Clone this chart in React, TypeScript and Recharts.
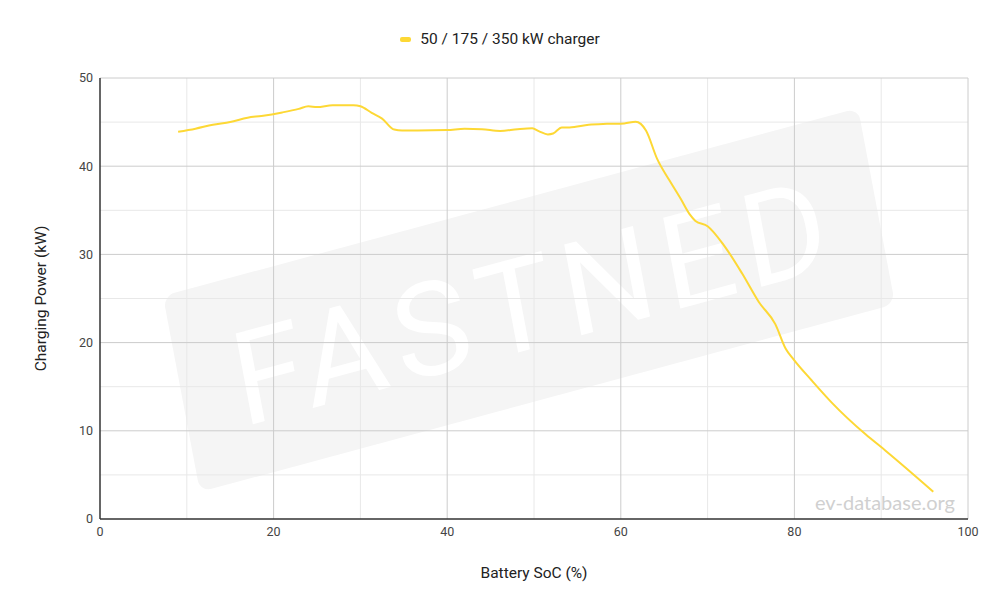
import { LineChart, Line, XAxis, YAxis, ReferenceLine, Legend } from 'recharts'

// Battery state of charge (%) and charging power (kW)
const socValues = [
  9, 11, 13, 15, 17, 18.6, 21, 22.9, 24, 25, 26.8, 29.2, 30, 31.3, 32.5, 33.9, 34.8, 36.6, 40, 42,
  44, 46.1, 48.1, 49.8, 50.6, 51.6, 52.2, 53.2, 54.1, 56.3, 58.4, 60.4, 61.7, 62.3, 62.9, 64.2,
  65.6, 66.9, 67.9, 68.6, 70, 71.9, 74, 75.9, 77.8, 79, 79.9, 82, 84.3, 88.2, 90.5, 96,
]
const powerValues = [
  43.9, 44.25, 44.7, 45.0, 45.5, 45.7, 46.1, 46.5, 46.8, 46.7, 46.9, 46.9, 46.8, 46.05, 45.4, 44.15,
  44.05, 44.05, 44.1, 44.25, 44.2, 44.0, 44.2, 44.3, 43.95, 43.6, 43.7, 44.4, 44.4, 44.7, 44.8,
  44.85, 45.05, 44.8, 44.05, 40.8, 38.4, 36.3, 34.6, 33.8, 33.2, 31.0, 27.8, 24.6, 22.1, 19.3,
  18.1, 15.7, 13.2, 9.6, 7.75, 3.1,
]

const xTicks = [0, 20, 40, 60, 80, 100]
const yTicks = [0, 10, 20, 30, 40, 50]
const xMajorGrid = [20, 40, 60, 80, 100]
const xMinorGrid = [10, 30, 50, 70, 90]
const yMajorGrid = [10, 20, 30, 40, 50]
const yMinorGrid = [5, 15, 25, 35, 45]

const seriesName = '50 / 175 / 350 kW charger'
const lineColor = '#fdd835'

const data = socValues.map((soc, i) => ({ soc, power: powerValues[i] }))

const font = 'Roboto, sans-serif'

function Watermark() {
  // skewed badge behind the plot, local box 720 x 200
  return (
    <svg width={1000} height={613} style={{ position: 'absolute', left: 0, top: 0 }}>
      <g transform="matrix(0.9653 -0.2611 0.185 0.98 163 296)">
        <rect x={0} y={0} width={720} height={200} rx={12} ry={12} fill="#f5f5f5" />
        <text
          x={360}
          y={148}
          textAnchor="middle"
          fontFamily={font}
          fontSize={130}
          fill="#ffffff"
          textLength={612}
          lengthAdjust="spacing"
        >
          FASTNED
        </text>
      </g>
      <text x={955} y={510} textAnchor="end" fontFamily="Lato, sans-serif" fontSize={20} fill="#d0d0d0">
        ev-database.org
      </text>
    </svg>
  )
}

function LegendContent() {
  return (
    <div style={{ display: 'flex', alignItems: 'center', justifyContent: 'center', fontFamily: font, fontSize: 15.5, color: '#222' }}>
      <span style={{ display: 'inline-block', width: 11, height: 5, borderRadius: 2, background: lineColor, marginRight: 9 }} />
      <span>{seriesName}</span>
    </div>
  )
}

export default function App() {
  return (
    <div style={{ position: 'absolute', left: 0, top: 0, width: 1000, height: 613, background: '#fff' }}>
      <Watermark />
      <div style={{ position: 'absolute', left: 0, top: 0 }}>
        <LineChart width={1000} height={613} data={data} margin={{ top: 78, right: 32, left: 30, bottom: 64 }}>
          <Legend
            verticalAlign="middle"
            align="center"
            content={() => <LegendContent />}
            wrapperStyle={{ top: 30, left: 0, width: 1000 }}
          />
          {xMinorGrid.map(v => (
            <ReferenceLine key={'xm' + v} x={v} stroke="#e8e8e8" strokeWidth={1} />
          ))}
          {yMinorGrid.map(v => (
            <ReferenceLine key={'ym' + v} y={v} stroke="#e8e8e8" strokeWidth={1} />
          ))}
          {xMajorGrid.map(v => (
            <ReferenceLine key={'xM' + v} x={v} stroke="#cccccc" strokeWidth={1} />
          ))}
          {yMajorGrid.map(v => (
            <ReferenceLine key={'yM' + v} y={v} stroke="#cccccc" strokeWidth={1} />
          ))}
          <XAxis
            dataKey="soc"
            type="number"
            domain={[0, 100]}
            ticks={xTicks}
            height={30}
            axisLine={{ stroke: '#333', strokeWidth: 1.5 }}
            tickLine={false}
            tickSize={6}
            tick={{ fill: '#444', fontSize: 12.5, fontFamily: font }}
            label={{
              value: 'Battery SoC (%)',
              position: 'bottom',
              offset: 18,
              style: { fill: '#222', fontSize: 15.5, fontFamily: font },
            }}
          />
          <YAxis
            type="number"
            domain={[0, 50]}
            ticks={yTicks}
            width={70}
            axisLine={{ stroke: '#333', strokeWidth: 1.5 }}
            tickLine={false}
            tickSize={7}
            tickMargin={0}
            tick={{ fill: '#444', fontSize: 12.5, fontFamily: font }}
            label={{
              value: 'Charging Power (kW)',
              angle: -90,
              position: 'insideLeft',
              offset: 10,
              style: { fill: '#222', fontSize: 15.5, fontFamily: font, textAnchor: 'middle' },
            }}
          />
          <Line
            type="monotone"
            dataKey="power"
            name={seriesName}
            stroke={lineColor}
            strokeWidth={2}
            dot={false}
            activeDot={false}
            isAnimationActive={false}
          />
        </LineChart>
      </div>
    </div>
  )
}
